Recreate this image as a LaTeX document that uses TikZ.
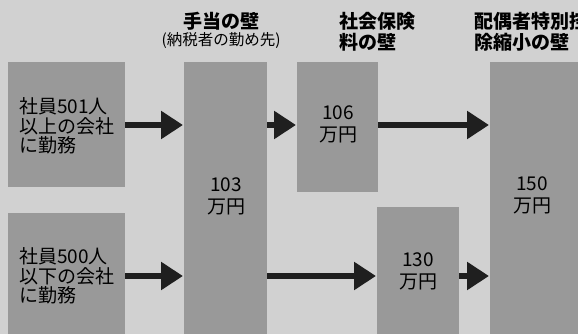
\documentclass[tikz,border=0pt]{standalone}
\usepackage{fontspec}
\setmainfont{Noto Sans CJK JP}
\usetikzlibrary{arrows.meta}
\definecolor{bgc}{gray}{0.82}
\definecolor{boxc}{gray}{0.60}
\tikzset{
  wall/.style={fill=boxc, draw=none, inner sep=0pt, outer sep=0pt},
  head/.style={font=\bfseries\fontsize{19}{21}\selectfont, align=left, anchor=west, inner sep=0pt},
  sub/.style={font=\fontsize{15.5}{18}\selectfont, inner sep=0pt},
  lbl/.style={font=\fontsize{19}{19.5}\selectfont, align=left, anchor=west, inner sep=0pt},
  amt/.style={font=\fontsize{19}{22}\selectfont, align=center, inner sep=0pt},
  bigarrow/.style={draw=black!88, line width=6.5pt, -{Triangle[length=22pt,width=27pt]}, shorten >=1pt}
}
\begin{document}
\begin{tikzpicture}[x=1pt,y=-1pt]
\useasboundingbox (0,0) rectangle (578,334);
\fill[bgc] (0,0) rectangle (578,334);
\clip (0,0) rectangle (578,334);
% walls / boxes
\node[wall, minimum width=117pt, minimum height=125pt] (b501) at (66.5,124.5) {};
\node[wall, minimum width=117pt, minimum height=132pt] (b500) at (66.5,279) {};
\node[wall, minimum width=83pt, minimum height=283pt] (w103) at (225.5,203.5) {};
\node[wall, minimum width=81pt, minimum height=130pt] (w106) at (337.5,127) {};
\node[wall, minimum width=82pt, minimum height=138pt] (w130) at (418,276) {};
\node[wall, minimum width=100pt, minimum height=283pt] (w150) at (540,203.5) {};
% headings
\node[head, anchor=center] (h1) at (221,21) {手当の壁};
\node[sub] (h1s) at (221,41) {(納税者の勤め先)};
\node[head] (h2) at (339,32) {社会保険\\料の壁};
\node[head] (h3) at (474,32) {配偶者特別控\\除縮小の壁};
% labels
\node[lbl] (t501) at (19,126) {社員501人\\以上の会社\\に勤務};
\node[lbl] (t500) at (19,276) {社員500人\\以下の会社\\に勤務};
\node[amt] (a103) at (226,196) {103\\万円};
\node[amt] (a106) at (338,124) {106\\万円};
\node[amt] (a130) at (418,271) {130\\万円};
\node[amt] (a150) at (532,195) {150\\万円};
% rows
\coordinate (r1) at (0,125);
\coordinate (r2) at (0,276);
\draw[bigarrow] (b501.east |- r1) -- (w103.west |- r1);
\draw[bigarrow] (w103.east |- r1) -- (w106.west |- r1);
\draw[bigarrow] (w106.east |- r1) -- (w150.west |- r1);
\draw[bigarrow] (b500.east |- r2) -- (w103.west |- r2);
\draw[bigarrow] (w103.east |- r2) -- (w130.west |- r2);
\draw[bigarrow] (w130.east |- r2) -- (w150.west |- r2);
\end{tikzpicture}
\end{document}
